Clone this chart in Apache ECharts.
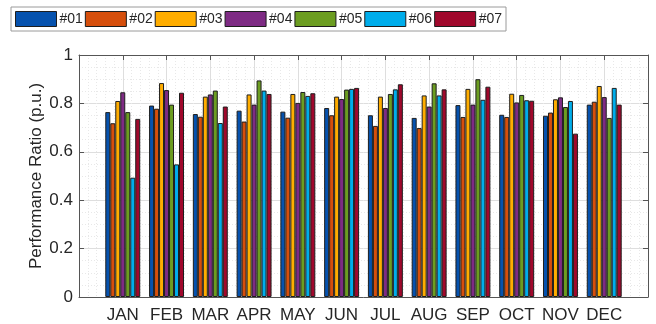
<!DOCTYPE html>
<html>
<head>
<meta charset="utf-8">
<script src="https://cdn.jsdelivr.net/npm/echarts@6/dist/echarts.min.js"></script>
<style>
  html, body { margin: 0; padding: 0; background: #fff; }
  #chart { width: 656px; height: 324px; }
</style>
</head>
<body>
<div id="chart"></div>
<script>
// Monthly performance ratio for seven PV systems
const months = ['JAN', 'FEB', 'MAR', 'APR', 'MAY', 'JUN', 'JUL', 'AUG', 'SEP', 'OCT', 'NOV', 'DEC'];
const seriesNames = ['#01', '#02', '#03', '#04', '#05', '#06', '#07'];
const pr01 = [0.764, 0.791, 0.756, 0.770, 0.766, 0.781, 0.751, 0.740, 0.793, 0.753, 0.749, 0.795];
const pr02 = [0.718, 0.778, 0.745, 0.725, 0.741, 0.751, 0.707, 0.698, 0.744, 0.744, 0.762, 0.807];
const pr03 = [0.810, 0.884, 0.828, 0.837, 0.839, 0.828, 0.828, 0.833, 0.860, 0.840, 0.817, 0.872];
const pr04 = [0.846, 0.855, 0.837, 0.795, 0.802, 0.818, 0.781, 0.787, 0.795, 0.804, 0.825, 0.826];
const pr05 = [0.764, 0.795, 0.853, 0.895, 0.847, 0.857, 0.839, 0.883, 0.900, 0.835, 0.785, 0.740];
const pr06 = [0.493, 0.548, 0.719, 0.853, 0.831, 0.860, 0.858, 0.833, 0.815, 0.813, 0.810, 0.864];
const pr07 = [0.736, 0.844, 0.787, 0.839, 0.842, 0.864, 0.879, 0.858, 0.869, 0.811, 0.675, 0.795];
const yTicks = [0, 0.2, 0.4, 0.6, 0.8, 1];

const allValues = [pr01, pr02, pr03, pr04, pr05, pr06, pr07];
const colors = ['#0652ae', '#d64f0c', '#ffad00', '#7e2b84', '#6c9d21', '#00adeb', '#a0082c'];

// the category axis runs from 0 to 13, months sit at 1..12
const cats = [''].concat(months, ['']);

const font = '"Liberation Sans Narrow", "Arial Narrow", "Liberation Sans", Arial, sans-serif';
const axisColor = '#555';
const textColor = '#262626';

const series = seriesNames.map((name, i) => ({
  name: name,
  type: 'bar',
  xAxisIndex: 0,
  yAxisIndex: 0,
  data: ['-'].concat(allValues[i], ['-']),
  barWidth: '11.4%',
  barGap: '0%',
  itemStyle: { color: colors[i], borderColor: '#1e1e1e', borderWidth: 1 }
}));

const chart = echarts.init(document.getElementById('chart'), null, { renderer: 'canvas' });
chart.setOption({
  animation: false,
  backgroundColor: '#fff',
  textStyle: { fontFamily: font },
  legend: {
    data: seriesNames,
    icon: 'rect',
    left: 11,
    top: 7,
    padding: [4, 4, 4, 4],
    itemWidth: 41,
    itemHeight: 15,
    itemGap: 2,
    borderColor: '#9a9a9a',
    borderWidth: 1,
    itemStyle: { borderColor: '#1e1e1e', borderWidth: 1 },
    textStyle: { fontFamily: font, fontSize: 14, color: textColor, padding: [0, 0, 0, -2] }
  },
  grid: { left: 79, right: 8, top: 55, bottom: 27, containLabel: false },
  xAxis: [
    {
      type: 'category',
      data: cats,
      boundaryGap: false,
      position: 'bottom',
      axisLine: { show: true, lineStyle: { color: axisColor, width: 1 } },
      axisTick: { show: true, inside: true, length: 5, interval: 0, lineStyle: { color: axisColor } },
      axisLabel: { interval: 0, margin: 10, fontSize: 17, color: textColor, fontFamily: font },
      splitLine: { show: false }
    },
    {
      // companion axis on top: box edge, ticks and the fine grid
      type: 'value',
      min: 0,
      max: 13,
      interval: 1,
      position: 'top',
      axisLine: { show: true, onZero: false, lineStyle: { color: axisColor, width: 1 } },
      axisTick: { show: true, inside: true, length: 5, lineStyle: { color: axisColor } },
      axisLabel: { show: false },
      splitLine: { show: true, lineStyle: { color: '#dedede', width: 1 } },
      minorTick: { show: false, splitNumber: 5 },
      minorSplitLine: { show: true, lineStyle: { color: '#e8e8e8', width: 1, type: [1, 2] } }
    }
  ],
  yAxis: [
    {
      type: 'value',
      min: 0,
      max: 1,
      interval: 0.2,
      position: 'left',
      name: 'Performance Ratio (p.u.)',
      nameLocation: 'middle',
      nameGap: 34,
      nameMoveOverlap: false,
      nameRotate: 90,
      nameTextStyle: { fontSize: 17, color: textColor, fontFamily: font },
      axisLine: { show: true, lineStyle: { color: axisColor, width: 1 } },
      axisTick: { show: true, inside: true, length: 5, lineStyle: { color: axisColor } },
      axisLabel: {
        fontSize: 17, color: textColor, fontFamily: font, margin: 6,
        formatter: v => (yTicks.includes(+v.toFixed(2)) ? String(+v.toFixed(2)) : '')
      },
      splitLine: { show: true, lineStyle: { color: '#dedede', width: 1 } },
      minorTick: { show: false, splitNumber: 4 },
      minorSplitLine: { show: true, lineStyle: { color: '#e8e8e8', width: 1, type: [1, 2] } }
    },
    {
      type: 'value',
      min: 0,
      max: 1,
      interval: 0.2,
      position: 'right',
      axisLine: { show: true, lineStyle: { color: axisColor, width: 1 } },
      axisTick: { show: true, inside: true, length: 5, lineStyle: { color: axisColor } },
      axisLabel: { show: false },
      splitLine: { show: false }
    }
  ],
  series: series
});
</script>
</body>
</html>
